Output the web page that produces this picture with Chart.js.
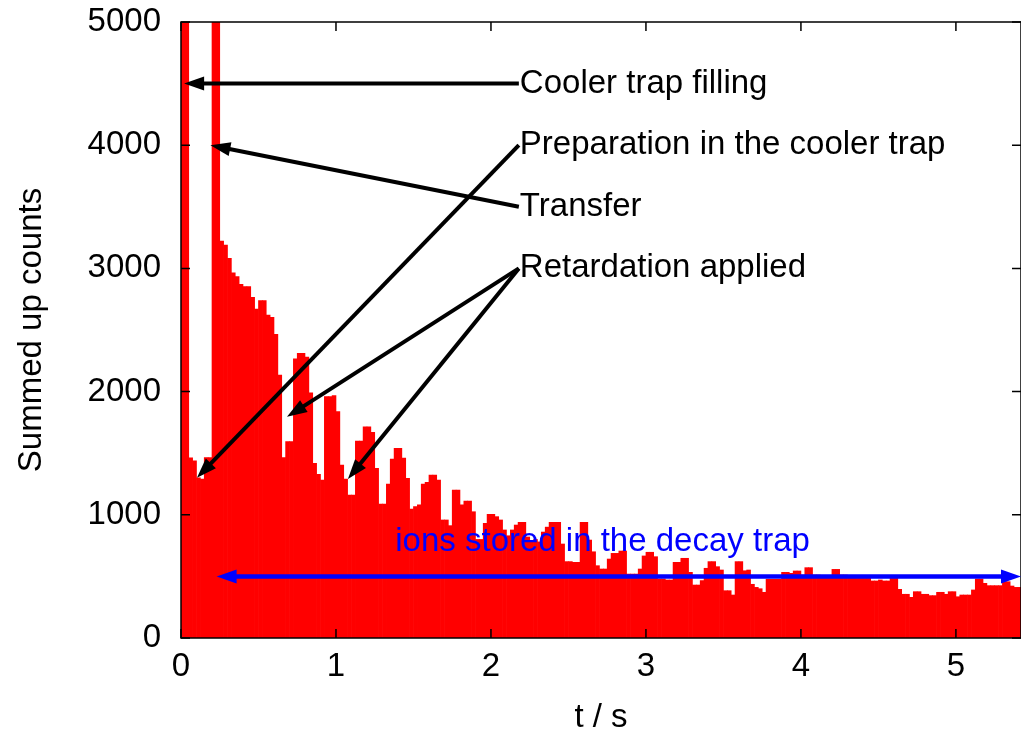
<!DOCTYPE html>
<html>
<head>
<meta charset="utf-8">
<script src="https://cdn.jsdelivr.net/npm/chart.js@4.4.0/dist/chart.umd.min.js"></script>
<style>
html, body { margin: 0; padding: 0; background: #fff; }
</style>
</head>
<body>
<canvas id="mycanvas" width="1021" height="738"></canvas>
<script>
// histogram bins, 0.025 s each, starting at t = 0
var binWidth = 0.025;
var counts = [
	9000, 9000, 1463, 1439, 1300, 1290, 1465, 1465, 9000, 9000,
	3222, 3190, 3082, 2965, 2933, 2870, 2852, 2852, 2765, 2670,
	2738, 2738, 2622, 2603, 2465, 2135, 1464, 1594, 1594, 2265,
	2311, 2311, 2280, 1991, 1418, 1329, 1282, 1959, 1959, 1967,
	1837, 1404, 1290, 1161, 1161, 1599, 1599, 1715, 1715, 1669,
	1377, 1088, 1088, 1250, 1453, 1540, 1540, 1460, 1296, 1047,
	1066, 1080, 1250, 1263, 1323, 1323, 1282, 958, 958, 912,
	1201, 1201, 1080, 1112, 1112, 1025, 800, 800, 931, 1004,
	1004, 985, 958, 877, 830, 877, 917, 939, 939, 820,
	780, 800, 780, 860, 900, 939, 939, 939, 763, 620,
	620, 614, 614, 939, 939, 795, 700, 587, 560, 560,
	641, 687, 687, 706, 706, 519, 519, 519, 560, 666,
	696, 696, 660, 479, 479, 471, 471, 614, 614, 647,
	647, 533, 430, 430, 466, 566, 620, 620, 579, 552,
	384, 384, 349, 620, 620, 546, 552, 436, 411, 400,
	371, 476, 476, 476, 476, 533, 533, 525, 544, 544,
	511, 571, 571, 511, 511, 498, 498, 498, 557, 557,
	511, 511, 498, 498, 484, 484, 484, 484, 463, 463,
	471, 463, 463, 484, 484, 395, 355, 355, 330, 376,
	376, 355, 355, 344, 344, 371, 371, 355, 376, 376,
	335, 349, 349, 349, 390, 479, 479, 444, 425, 425,
	425, 425, 457, 457, 422, 411, 411
];
var xTicks = [0, 1, 2, 3, 4, 5];
var yTicks = [0, 1000, 2000, 3000, 4000, 5000];

// annotations, in data coordinates (t, counts)
var notes = [
	{ text: 'Cooler trap filling', x: 2.18, y: 4500 },
	{ text: 'Preparation in the cooler trap', x: 2.18, y: 4000 },
	{ text: 'Transfer', x: 2.18, y: 3500 },
	{ text: 'Retardation applied', x: 2.18, y: 3000 }
];
var arrows = [
	{ from: [2.18, 4500], to: [0.02, 4500] },
	{ from: [2.18, 4000], to: [0.103, 1300] },
	{ from: [2.18, 3500], to: [0.19, 4000] },
	{ from: [2.18, 3000], to: [0.684, 1795] },
	{ from: [2.18, 3000], to: [1.077, 1290] }
];
var decayText = { text: 'ions stored in the decay trap', x: 2.72, y: 780 };
var decayArrow = { from: [0.23, 500], to: [5.42, 500] };

var fontFamily = '"Liberation Sans", Arial, Helvetica, sans-serif';
var fontSize = 33;

var points = [];
for (var i in counts) {
	points.push({ x: (Number(i) + 0.5) * binWidth, y: counts[i] });
}

function arrowHead(ctx, x1, y1, x2, y2, len, half) {
	var ang = Math.atan2(y2 - y1, x2 - x1);
	ctx.beginPath();
	ctx.moveTo(x2, y2);
	ctx.lineTo(x2 - len * Math.cos(ang) + half * Math.sin(ang), y2 - len * Math.sin(ang) - half * Math.cos(ang));
	ctx.lineTo(x2 - len * Math.cos(ang) - half * Math.sin(ang), y2 - len * Math.sin(ang) + half * Math.cos(ang));
	ctx.closePath();
	ctx.fill();
}

function drawArrow(ctx, x1, y1, x2, y2, color, width, both) {
	var len = 20, half = 7;
	var ang = Math.atan2(y2 - y1, x2 - x1);
	var sx = both ? x1 + (len - 2) * Math.cos(ang) : x1;
	var sy = both ? y1 + (len - 2) * Math.sin(ang) : y1;
	ctx.strokeStyle = color;
	ctx.fillStyle = color;
	ctx.lineWidth = width;
	ctx.beginPath();
	ctx.moveTo(sx, sy);
	ctx.lineTo(x2 - (len - 2) * Math.cos(ang), y2 - (len - 2) * Math.sin(ang));
	ctx.stroke();
	arrowHead(ctx, x1, y1, x2, y2, len, half);
	if (both) arrowHead(ctx, x2, y2, x1, y1, len, half);
}

var overlay = {
	id: 'overlay',
	afterDatasetsDraw: function(chart) {
		var ctx = chart.ctx;
		var a = chart.chartArea;
		var xs = chart.scales.x, ys = chart.scales.y;
		ctx.save();

		// frame with inward ticks on all sides
		ctx.strokeStyle = '#000';
		ctx.lineWidth = 1.5;
		ctx.strokeRect(a.left, a.top, a.right - a.left, a.bottom - a.top);
		ctx.beginPath();
		xTicks.forEach(function(v) {
			var px = xs.getPixelForValue(v);
			ctx.moveTo(px, a.bottom); ctx.lineTo(px, a.bottom - 9);
			ctx.moveTo(px, a.top); ctx.lineTo(px, a.top + 9);
		});
		yTicks.forEach(function(v) {
			var py = ys.getPixelForValue(v);
			ctx.moveTo(a.left, py); ctx.lineTo(a.left + 9, py);
			ctx.moveTo(a.right, py); ctx.lineTo(a.right - 9, py);
		});
		ctx.stroke();

		// black labels and arrows
		ctx.font = fontSize + 'px ' + fontFamily;
		ctx.textBaseline = 'middle';
		ctx.textAlign = 'left';
		ctx.fillStyle = '#000';
		notes.forEach(function(n) {
			ctx.fillText(n.text, xs.getPixelForValue(n.x) + 1, ys.getPixelForValue(n.y));
		});
		arrows.forEach(function(ar) {
			drawArrow(ctx, xs.getPixelForValue(ar.from[0]), ys.getPixelForValue(ar.from[1]),
				xs.getPixelForValue(ar.to[0]), ys.getPixelForValue(ar.to[1]), '#000', 4, false);
		});

		// blue decay trap label and double arrow
		ctx.fillStyle = '#0000ff';
		ctx.textAlign = 'center';
		ctx.fillText(decayText.text, xs.getPixelForValue(decayText.x), ys.getPixelForValue(decayText.y));
		drawArrow(ctx, xs.getPixelForValue(decayArrow.from[0]), ys.getPixelForValue(decayArrow.from[1]),
			xs.getPixelForValue(decayArrow.to[0]), ys.getPixelForValue(decayArrow.to[1]), '#0000ff', 4.5, true);

		ctx.restore();
	}
};

var tickFont = { family: fontFamily, size: fontSize };

var chartdata = {
	datasets: [
		{
			label: 'Summed up counts',
			data: points,
			backgroundColor: '#ff0000',
			borderWidth: 0,
			barPercentage: 1.0,
			categoryPercentage: 1.0
		}
	]
};

var ctx = document.getElementById('mycanvas');

var barGraph = new Chart(ctx, {
	type: 'bar',
	data: chartdata,
	options: {
		responsive: false,
		animation: false,
		layout: { padding: { top: 22, right: 0, bottom: 0, left: 0 } },
		plugins: {
			legend: { display: false },
			tooltip: { enabled: false }
		},
		scales: {
			x: {
				type: 'linear',
				min: 0,
				max: 5.42,
				offset: false,
				grid: { display: false, drawTicks: false },
				border: { display: false },
				ticks: { color: '#000', font: tickFont, padding: 9, maxRotation: 0,
					callback: function(v) { return String(v); } },
				title: { display: true, text: 't / s', color: '#000', font: tickFont, padding: { top: 0, bottom: 0 } },
				afterBuildTicks: function(scale) {
					scale.ticks = xTicks.map(function(v) { return { value: v }; });
				},
				afterFit: function(scale) {
					scale.height = 100;
					scale.paddingLeft = 0;
					scale.paddingRight = 0;
				}
			},
			y: {
				min: 0,
				max: 5000,
				grid: { display: false, drawTicks: false },
				border: { display: false },
				ticks: { color: '#000', font: tickFont, padding: 20,
					callback: function(v) { return String(v); } },
				title: { display: true, text: 'Summed up counts', color: '#000', font: tickFont, padding: { top: 12, bottom: 0 } },
				afterBuildTicks: function(scale) {
					scale.ticks = yTicks.map(function(v) { return { value: v }; });
				},
				afterFit: function(scale) {
					scale.width = 181;
					scale.paddingTop = 0;
					scale.paddingBottom = 0;
				}
			}
		}
	},
	plugins: [overlay]
});
</script>
</body>
</html>
